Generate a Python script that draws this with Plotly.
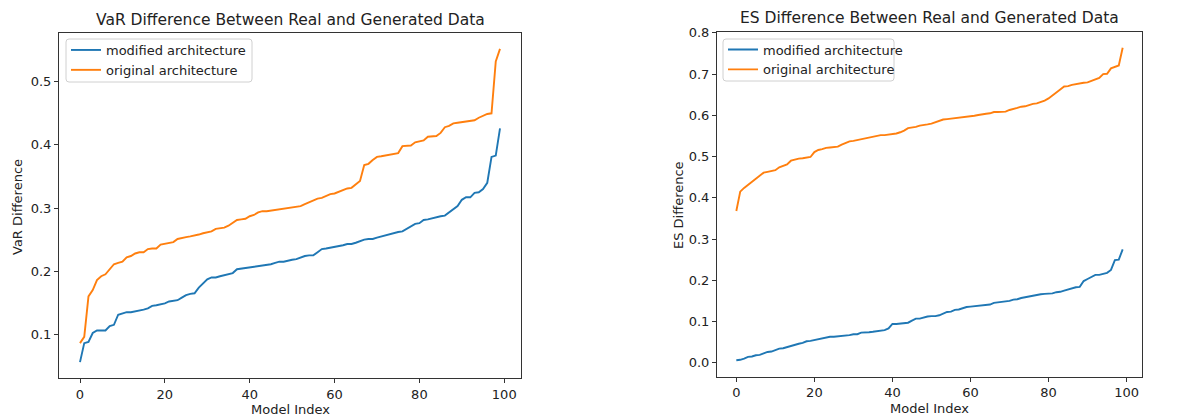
import plotly.graph_objects as go

model_index = list(range(100))

var_modified = [
    0.056, 0.086, 0.088, 0.102, 0.106, 0.106, 0.106, 0.113, 0.115, 0.131,
    0.133, 0.135, 0.135, 0.136, 0.137, 0.139, 0.141, 0.145, 0.146, 0.147,
    0.149, 0.152, 0.153, 0.154, 0.158, 0.162, 0.164, 0.165, 0.174, 0.181,
    0.187, 0.190, 0.190, 0.192, 0.194, 0.196, 0.197, 0.203, 0.204, 0.205,
    0.206, 0.207, 0.208, 0.209, 0.209, 0.211, 0.213, 0.215, 0.215, 0.217,
    0.218, 0.219, 0.222, 0.224, 0.225, 0.225, 0.230, 0.235, 0.236, 0.237,
    0.238, 0.240, 0.241, 0.243, 0.243, 0.245, 0.248, 0.250, 0.251, 0.251,
    0.253, 0.255, 0.256, 0.258, 0.261, 0.262, 0.263, 0.267, 0.271, 0.275,
    0.276, 0.281, 0.282, 0.284, 0.286, 0.287, 0.288, 0.293, 0.299, 0.303,
    0.313, 0.317, 0.317, 0.324, 0.325, 0.330, 0.340, 0.381, 0.383, 0.426,
]

var_original = [
    0.086, 0.096, 0.160, 0.170, 0.186, 0.192, 0.195, 0.203, 0.211, 0.213,
    0.215, 0.222, 0.224, 0.228, 0.230, 0.230, 0.235, 0.236, 0.236, 0.242,
    0.243, 0.244, 0.246, 0.251, 0.253, 0.254, 0.255, 0.256, 0.258, 0.260,
    0.261, 0.263, 0.267, 0.268, 0.269, 0.272, 0.276, 0.281, 0.282, 0.283,
    0.287, 0.289, 0.293, 0.295, 0.295, 0.296, 0.296, 0.297, 0.298, 0.299,
    0.301, 0.302, 0.303, 0.306, 0.309, 0.313, 0.315, 0.316, 0.319, 0.322,
    0.323, 0.326, 0.328, 0.331, 0.332, 0.337, 0.343, 0.368, 0.370, 0.376,
    0.381, 0.382, 0.383, 0.385, 0.385, 0.387, 0.398, 0.399, 0.399, 0.404,
    0.406, 0.407, 0.413, 0.414, 0.414, 0.419, 0.428, 0.430, 0.434, 0.435,
    0.436, 0.436, 0.437, 0.439, 0.443, 0.446, 0.449, 0.450, 0.532, 0.552,
]

es_modified = [
    0.006, 0.007, 0.010, 0.014, 0.015, 0.018, 0.019, 0.022, 0.026, 0.027,
    0.030, 0.034, 0.035, 0.038, 0.040, 0.043, 0.046, 0.048, 0.052, 0.053,
    0.055, 0.057, 0.058, 0.061, 0.063, 0.063, 0.064, 0.065, 0.065, 0.067,
    0.069, 0.069, 0.073, 0.073, 0.074, 0.075, 0.076, 0.077, 0.079, 0.083,
    0.094, 0.094, 0.095, 0.095, 0.097, 0.102, 0.107, 0.107, 0.110, 0.112,
    0.113, 0.113, 0.115, 0.120, 0.123, 0.124, 0.128, 0.129, 0.132, 0.135,
    0.136, 0.137, 0.139, 0.140, 0.141, 0.141, 0.145, 0.146, 0.147, 0.149,
    0.150, 0.153, 0.154, 0.157, 0.159, 0.161, 0.162, 0.165, 0.166, 0.167,
    0.168, 0.168, 0.171, 0.172, 0.175, 0.178, 0.181, 0.183, 0.184, 0.198,
    0.203, 0.208, 0.213, 0.213, 0.215, 0.218, 0.225, 0.249, 0.250, 0.275,
]

es_original = [
    0.368, 0.415, 0.424, 0.431, 0.439, 0.447, 0.453, 0.461, 0.463, 0.465,
    0.467, 0.474, 0.478, 0.481, 0.490, 0.493, 0.495, 0.496, 0.498, 0.499,
    0.511, 0.516, 0.518, 0.521, 0.522, 0.523, 0.524, 0.529, 0.534, 0.537,
    0.538, 0.540, 0.541, 0.543, 0.545, 0.547, 0.549, 0.552, 0.552, 0.553,
    0.554, 0.556, 0.559, 0.563, 0.569, 0.570, 0.572, 0.575, 0.576, 0.578,
    0.580, 0.583, 0.587, 0.590, 0.591, 0.592, 0.593, 0.594, 0.596, 0.597,
    0.598, 0.599, 0.601, 0.603, 0.604, 0.605, 0.608, 0.608, 0.608, 0.609,
    0.613, 0.615, 0.618, 0.621, 0.622, 0.625, 0.628, 0.629, 0.632, 0.636,
    0.641, 0.649, 0.655, 0.663, 0.670, 0.671, 0.674, 0.676, 0.678, 0.679,
    0.680, 0.684, 0.687, 0.691, 0.700, 0.701, 0.714, 0.717, 0.721, 0.764,
]

series_names = ["modified architecture", "original architecture"]
colors = ["#1f77b4", "#ff7f0e"]
titles = ["VaR Difference Between Real and Generated Data",
          "ES Difference Between Real and Generated Data"]
y_titles = ["VaR Difference", "ES Difference"]
x_title = "Model Index"

# The page body has an 8px margin, so the figure is offset by 8px on screen.
OFF = 8
SW, SH = 1188, 417            # screen size
W, H = SW - OFF, SH - OFF     # figure size
FONT = "DejaVu Sans, Verdana, sans-serif"
TXT = "#222222"
FS = 13


def px(x):
    return (x - OFF) / W


def py(y):
    return 1 - (y - OFF) / H


fig = go.Figure()

for name, ys, col in zip(series_names, [var_modified, var_original], colors):
    fig.add_trace(go.Scatter(x=model_index, y=ys, mode="lines", name=name,
                             line=dict(color=col, width=1.9),
                             xaxis="x", yaxis="y", legend="legend"))
for name, ys, col in zip(series_names, [es_modified, es_original], colors):
    fig.add_trace(go.Scatter(x=model_index, y=ys, mode="lines", name=name,
                             line=dict(color=col, width=1.9),
                             xaxis="x2", yaxis="y2", legend="legend2"))

axis_common = dict(
    showgrid=False, zeroline=False, showline=True, mirror=True,
    linecolor="#333333", linewidth=1.1, automargin=False,
    ticks="outside", ticklen=4, tickwidth=1, tickcolor="#333333",
    tickfont=dict(family=FONT, size=FS, color=TXT),
)

dom1 = [px(59), px(521)]
dom2 = [px(717), px(1142)]
ydom1 = [py(378), py(33)]
ydom2 = [py(376.7), py(32.3)]


def ann(text, xs, ys, size=FS, angle=0):
    return dict(text=text, x=px(xs), y=py(ys), xref="paper", yref="paper",
                xanchor="center", yanchor="middle", showarrow=False, textangle=angle,
                font=dict(family=FONT, size=size, color=TXT))


def rounded_box(x0, y0, x1, y1, r=3):
    X0, X1 = px(x0), px(x1)
    Y0, Y1 = py(y0), py(y1)  # Y0 top (larger), Y1 bottom
    rx, ry = r / W, r / H
    path = (f"M {X0+rx},{Y0} L {X1-rx},{Y0} Q {X1},{Y0} {X1},{Y0-ry} "
            f"L {X1},{Y1+ry} Q {X1},{Y1} {X1-rx},{Y1} "
            f"L {X0+rx},{Y1} Q {X0},{Y1} {X0},{Y1+ry} "
            f"L {X0},{Y0-ry} Q {X0},{Y0} {X0+rx},{Y0} Z")
    return dict(type="path", path=path, xref="paper", yref="paper",
                line=dict(color="#d0d0d0", width=1),
                fillcolor="rgba(255,255,255,0.8)", layer="above")


legend_common = dict(xanchor="left", yanchor="top",
                     bgcolor="rgba(0,0,0,0)", borderwidth=0,
                     font=dict(family=FONT, size=FS, color=TXT),
                     tracegroupgap=0, itemwidth=30)

fig.update_layout(
    width=W, height=H,
    margin=dict(l=0, r=0, t=0, b=0, autoexpand=False),
    paper_bgcolor="white", plot_bgcolor="white",
    font=dict(family=FONT, color=TXT),
    showlegend=True,
    xaxis=dict(axis_common, domain=dom1, anchor="y", range=[-4.95, 103.95],
               tickvals=[0, 20, 40, 60, 80, 100]),
    yaxis=dict(axis_common, domain=ydom1, anchor="x", range=[0.0308, 0.5772],
               tickvals=[0.1, 0.2, 0.3, 0.4, 0.5], tickformat=".1f"),
    xaxis2=dict(axis_common, domain=dom2, anchor="y2", range=[-4.95, 103.95],
                tickvals=[0, 20, 40, 60, 80, 100]),
    yaxis2=dict(axis_common, domain=ydom2, anchor="x2", range=[-0.034, 0.8015],
                tickvals=[0.0, 0.1, 0.2, 0.3, 0.4, 0.5, 0.6, 0.7, 0.8], tickformat=".1f"),
    legend=dict(legend_common, x=px(66), y=py(35)),
    legend2=dict(legend_common, x=px(723), y=py(34.5)),
    shapes=[rounded_box(66, 39, 252, 82), rounded_box(723, 39, 894, 81)],
    annotations=[
        ann(titles[0], 290, 20, size=15.5),
        ann(titles[1], 929.5, 18, size=15.5),
        ann(x_title, 290, 409),
        ann(x_title, 929.5, 408),
        ann(y_titles[0], 17, 207, angle=-90),
        ann(y_titles[1], 678, 205, angle=-90),
    ],
)

fig.write_html("out.html")
